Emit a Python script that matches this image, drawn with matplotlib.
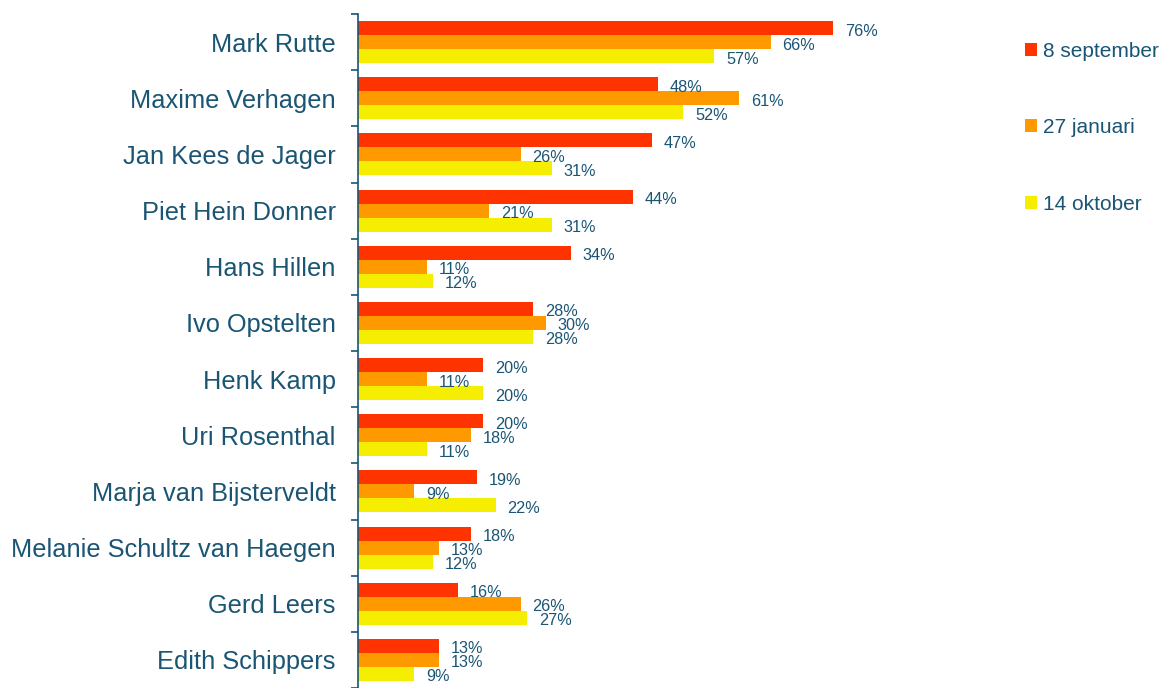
import matplotlib.pyplot as plt
import numpy as np

plt.rcParams['font.family'] = ['Liberation Sans', 'DejaVu Sans']

# Namen en percentages
namen = ['Mark Rutte', 'Maxime Verhagen', 'Jan Kees de Jager', 'Piet Hein Donner',
         'Hans Hillen', 'Ivo Opstelten', 'Henk Kamp', 'Uri Rosenthal',
         'Marja van Bijsterveldt', 'Melanie Schultz van Haegen', 'Gerd Leers',
         'Edith Schippers']
sep8 = [76, 48, 47, 44, 34, 28, 20, 20, 19, 18, 16, 13]
jan27 = [66, 61, 26, 21, 11, 30, 11, 18, 9, 13, 26, 13]
okt14 = [57, 52, 31, 31, 12, 28, 20, 11, 22, 12, 27, 9]
reeksen = ['8 september', '27 januari', '14 oktober']

kleuren = ['#FF3300', '#FF9900', '#F5EE00']
tekst = '#1A5574'

fig = plt.figure(figsize=(11.75, 6.88), dpi=100)
ax = fig.add_axes([358/1175, 0, 625/1175, 1 - 14/688])

y = np.arange(len(namen))
h = 0.25
for i, (waarden, kleur, naam) in enumerate(zip([sep8, jan27, okt14], kleuren, reeksen)):
    pos = y + (i - 1) * h
    ax.barh(pos, waarden, height=h, color=kleur, label=naam)
    for p, w in zip(pos, waarden):
        ax.annotate(f'{w}%', (w, p), xytext=(12, -3), textcoords='offset pixels',
                    ha='left', va='center', fontsize=11.7, color=tekst)

ax.set_xlim(0, 100)
ax.set_ylim(len(namen) - 0.5, -0.5)

ax.set_yticks(y)
ax.set_yticklabels(namen, fontsize=18.3, color=tekst)
ax.set_yticks(np.arange(len(namen) + 1) - 0.5, minor=True)
ax.tick_params(axis='y', which='major', length=0, pad=16)
ax.tick_params(axis='y', which='minor', length=5, width=1.2, color=tekst, direction='out')
ax.set_xticks([])

for s in ['top', 'right', 'bottom']:
    ax.spines[s].set_visible(False)
ax.spines['left'].set_color(tekst)
ax.spines['left'].set_linewidth(1.2)

ax.legend(loc='upper left', bbox_to_anchor=(1025/1175, 1 - 42/688),
          bbox_transform=fig.transFigure, frameon=False, fontsize=15,
          labelcolor=tekst, handlelength=0.58, handleheight=0.58,
          handletextpad=0.3, labelspacing=2.75, borderpad=0, borderaxespad=0)

fig.savefig('out.png', dpi=100)
